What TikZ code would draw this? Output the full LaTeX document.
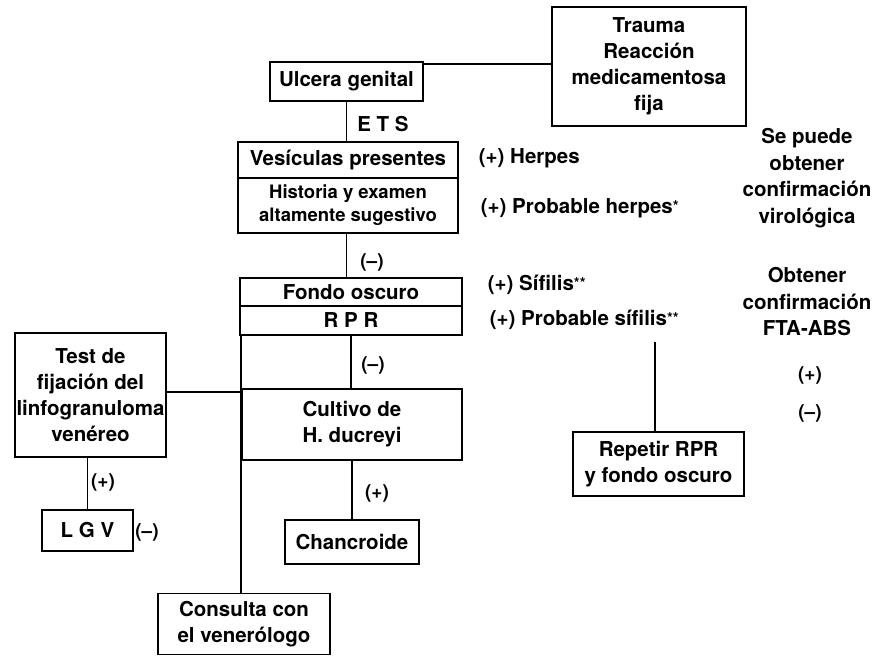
\documentclass[tikz,border=0pt]{standalone}
\usepackage{fontspec}
\setmainfont{TeX Gyre Heros}
\newcommand{\astx}[1]{\raisebox{2pt}{\fontsize{15}{15}\selectfont #1}}
\begin{document}
\begin{tikzpicture}[x=1pt,y=-1pt,line width=1.8pt,
  box/.style={draw,line width=1.8pt,inner sep=0pt,align=center,font=\fontsize{20.5}{26}\selectfont\bfseries},
  smallbox/.style={box,font=\fontsize{18.5}{23}\selectfont\bfseries},
  lbl/.style={inner sep=0pt,align=center,font=\fontsize{20.5}{26.5}\selectfont\bfseries},
  sign/.style={inner sep=0pt,font=\fontsize{19}{20}\selectfont\bfseries}]
\useasboundingbox[fill=white] (0,0) rectangle (880,656);
% boxes
\node[box,minimum width=194pt,minimum height=119pt] (trauma) at (649,66.5) {Trauma\\Reacción\\medicamentosa\\fija};
\node[box,minimum width=153pt,minimum height=39pt] (ulcera) at (346.5,81.5) {Ulcera genital};
\node[box,minimum width=220pt,minimum height=36pt] (vesic) at (348,160) {Vesículas presentes};
\node[smallbox,minimum width=220pt,minimum height=55pt] (hist) at (348,205.5) {Historia y examen\\altamente sugestivo};
\node[box,minimum width=222pt,minimum height=28pt] (fondo) at (351,292) {Fondo oscuro};
\node[box,minimum width=222pt,minimum height=29pt] (rpr) at (351,320.5) {R P R};
\node[box,minimum width=151pt,minimum height=124pt] (test) at (90.5,395) {Test de\\fijación del\\linfogranuloma\\venéreo};
\node[box,minimum width=220pt,minimum height=71pt] (cultivo) at (352,424.5) {Cultivo de\\H. ducreyi};
\node[box,minimum width=91pt,minimum height=41pt] (lgv) at (87.5,530.5) {L G V};
\node[box,minimum width=134pt,minimum height=44pt] (chanc) at (352,542) {Chancroide};
\node[box,minimum width=172pt,minimum height=61pt] (consulta) at (244,624) {Consulta con\\el venerólogo};
\node[box,minimum width=171pt,minimum height=64pt] (repetir) at (658.5,464) {Repetir RPR\\y fondo oscuro};
% labels
\node[lbl] (ets) at (383,124) {E T S};
\node[lbl,anchor=west] (herpes) at (478,158) {(+) Herpes};
\node[lbl,anchor=west] (probherpes) at (480,208) {(+) Probable herpes\astx{*}};
\node[lbl,anchor=west] (sifilis) at (487,285) {(+) Sífilis\astx{**}};
\node[lbl,anchor=west] (probsif) at (489,320) {(+) Probable sífilis\astx{**}};
\node[lbl] (viro) at (807,178) {Se puede\\obtener\\confirmación\\virológica};
\node[lbl] (fta) at (807,302) {Obtener\\confirmación\\FTA-ABS};
\node[sign] (pR) at (810,375) {(+)};
\node[sign] (mR) at (810,413) {(--)};
\node[sign] (m1) at (372,262) {(--)};
\node[sign] (m2) at (373,365) {(--)};
\node[sign] (p1) at (103,482) {(+)};
\node[sign] (m3) at (147,532) {(--)};
\node[sign] (p2) at (377,493) {(+)};
% connectors
\draw ([yshift=-3pt]ulcera.north east) -- ([yshift=-3pt]ulcera.north east -| trauma.west);
\draw (ulcera.south) -- (ulcera.south |- vesic.north);
\draw (hist.south -| ulcera.south) -- (ulcera.south |- fondo.north);
\draw (rpr.south) -- (rpr.south |- cultivo.north);
\draw ([xshift=2pt]rpr.south west) -- ([xshift=2pt]rpr.south west |- consulta.north);
\draw ([yshift=3pt]test.east) -- ([yshift=3pt]test.east -| cultivo.west);
\draw (lgv.north |- test.south) -- (lgv.north);
\draw (cultivo.south) -- (chanc.north);
\coordinate (rp) at (655,342);
\draw (rp) -- (rp |- repetir.north);
\end{tikzpicture}
\end{document}
